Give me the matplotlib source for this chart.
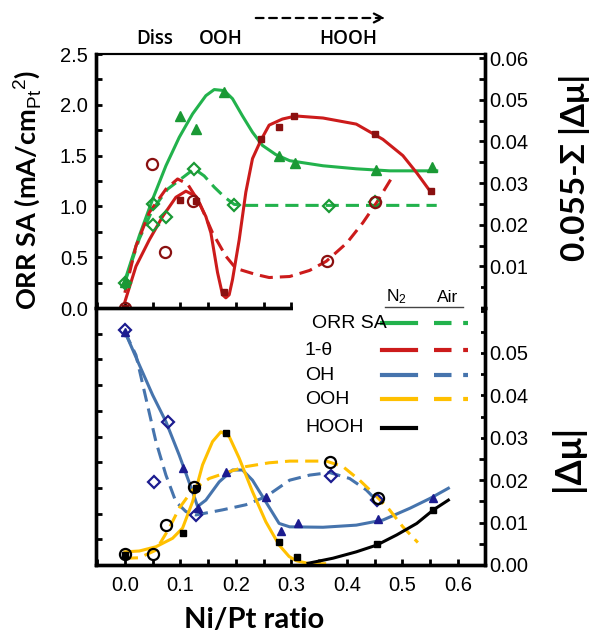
import matplotlib
matplotlib.use("Agg")
import matplotlib.pyplot as plt
from matplotlib.lines import Line2D
from matplotlib.patches import Rectangle
from matplotlib.ticker import MultipleLocator, FixedLocator, FormatStrFormatter

plt.rcParams['font.family'] = ['Liberation Sans', 'DejaVu Sans']
plt.rcParams['mathtext.fontset'] = 'custom'
plt.rcParams['mathtext.rm'] = 'Liberation Sans'
plt.rcParams['mathtext.it'] = 'Liberation Sans:italic'
plt.rcParams['mathtext.bf'] = 'Liberation Sans:bold'

# ---- top panel: ORR SA and 1-theta (left axis units) ----
orr_n2_x = [0, 0.1, 0.128, 0.179, 0.277, 0.306, 0.452, 0.553]
orr_n2_y = [0.26, 1.89, 1.76, 2.13, 1.50, 1.43, 1.36, 1.39]
orr_air_x = [0, 0.05, 0.05, 0.074, 0.125, 0.197, 0.368, 0.45]
orr_air_y = [0.25, 1.02, 0.82, 0.90, 1.37, 1.01, 1.00, 1.04]
theta_n2_x = [0, 0.1, 0.128, 0.179, 0.245, 0.277, 0.305, 0.45, 0.551]
theta_n2_y = [0.0, 1.06, 1.05, 0.16, 1.66, 1.78, 1.89, 1.71, 1.15]
theta_air_x = [0, 0.049, 0.072, 0.122, 0.365, 0.45]
theta_air_y = [0.0, 1.42, 0.55, 1.05, 0.46, 1.04]

orr_n2_fit_x = [0, 0.026, 0.05, 0.074, 0.098, 0.122, 0.146, 0.161, 0.179, 0.194,
                0.212, 0.23, 0.248, 0.272, 0.297, 0.357, 0.417, 0.477, 0.562]
orr_n2_fit_y = [0.27, 0.71, 1.07, 1.40, 1.68, 1.91, 2.09, 2.15, 2.14, 2.06,
                1.89, 1.73, 1.60, 1.51, 1.45, 1.40, 1.37, 1.35, 1.35]
orr_air_fit_x = [0, 0.026, 0.05, 0.077, 0.101, 0.125, 0.143, 0.161, 0.18, 0.197,
                 0.22, 0.30, 0.40, 0.50, 0.562]
orr_air_fit_y = [0.25, 0.68, 0.97, 1.17, 1.27, 1.37, 1.30, 1.19, 1.09, 1.02,
                 1.01, 1.01, 1.01, 1.01, 1.01]
theta_n2_fit_x = [0, 0.02, 0.044, 0.068, 0.092, 0.11, 0.128, 0.146, 0.155, 0.167,
                  0.176, 0.182, 0.188, 0.194, 0.206, 0.218, 0.23, 0.245, 0.26, 0.284,
                  0.308, 0.357, 0.417, 0.465, 0.501, 0.526, 0.55]
theta_n2_fit_y = [0.06, 0.41, 0.67, 0.90, 1.09, 1.15, 1.10, 0.90, 0.74, 0.35,
                  0.13, 0.10, 0.13, 0.28, 0.67, 1.14, 1.47, 1.65, 1.80, 1.86,
                  1.89, 1.87, 1.81, 1.66, 1.50, 1.33, 1.15]
theta_air_fit_x = [0, 0.02, 0.044, 0.074, 0.095, 0.113, 0.134, 0.158, 0.182, 0.2,
                   0.236, 0.26, 0.297, 0.333, 0.363, 0.4, 0.429, 0.454, 0.483]
theta_air_fit_y = [0.15, 0.61, 0.94, 1.17, 1.27, 1.22, 1.04, 0.74, 0.51, 0.39,
                   0.33, 0.30, 0.31, 0.37, 0.46, 0.64, 0.84, 1.04, 1.30]

# ---- bottom panel: |dmu| (right axis units) ----
oh_n2_x = [0, 0.105, 0.131, 0.182, 0.254, 0.281, 0.312, 0.456, 0.556]
oh_n2_y = [0.055, 0.0228, 0.0134, 0.0220, 0.0161, 0.0079, 0.0098, 0.0108, 0.0157]
oh_air_x = [0, 0.053, 0.077, 0.128, 0.371, 0.455]
oh_air_y = [0.0555, 0.0196, 0.0338, 0.0118, 0.0210, 0.0153]
ooh_n2_x = [0, 0.105, 0.128, 0.182, 0.278]
ooh_n2_y = [0.0024, 0.0075, 0.0181, 0.0311, 0.0054]
hooh_n2_x = [0.31, 0.455, 0.556]
hooh_n2_y = [0.0020, 0.0049, 0.0130]
ooh_air_x = [0, 0.051, 0.074, 0.125, 0.369, 0.456]
ooh_air_y = [0.0025, 0.0025, 0.0094, 0.0185, 0.0244, 0.0157]

oh_n2_fit_x = [0, 0.026, 0.05, 0.074, 0.098, 0.122, 0.131, 0.146, 0.17, 0.194, 0.212,
               0.23, 0.254, 0.278, 0.297, 0.357, 0.417, 0.465, 0.514, 0.55, 0.583]
oh_n2_fit_y = [0.0550, 0.0472, 0.0401, 0.0338, 0.0259, 0.0173, 0.0138, 0.0153, 0.0196,
               0.0224, 0.0224, 0.0200, 0.0149, 0.0098, 0.0090, 0.0089, 0.0094, 0.0106,
               0.0134, 0.0157, 0.0181]
oh_air_fit_x = [0, 0.02, 0.038, 0.056, 0.074, 0.092, 0.11, 0.128, 0.176, 0.218, 0.254,
                0.297, 0.333, 0.369, 0.405, 0.435, 0.456]
oh_air_fit_y = [0.0550, 0.0495, 0.0393, 0.0291, 0.0212, 0.0149, 0.0126, 0.0118, 0.0130,
                0.0142, 0.0161, 0.0200, 0.0212, 0.0218, 0.0204, 0.0177, 0.0149]
ooh_n2_fit_x = [0, 0.026, 0.056, 0.086, 0.104, 0.122, 0.14, 0.158, 0.173, 0.188, 0.206,
                0.23, 0.254, 0.278, 0.296, 0.309, 0.333, 0.36]
ooh_n2_fit_y = [0.0031, 0.0033, 0.0043, 0.0063, 0.0087, 0.0149, 0.0236, 0.0291, 0.0314,
                0.0303, 0.0252, 0.0173, 0.0102, 0.0047, 0.0020, 0.0010, 0.0003, 0.0003]
ooh_air_fit_x = [0, 0.026, 0.056, 0.08, 0.098, 0.122, 0.152, 0.188, 0.218, 0.26, 0.297,
                 0.363, 0.393, 0.423, 0.454, 0.477, 0.501, 0.528]
ooh_air_fit_y = [0.0016, 0.0017, 0.0035, 0.0087, 0.0134, 0.0177, 0.0204, 0.0220, 0.0232,
                 0.0241, 0.0245, 0.0245, 0.0232, 0.0200, 0.0161, 0.0130, 0.0090, 0.0053]
hooh_n2_fit_x = [0.33, 0.375, 0.417, 0.454, 0.49, 0.526, 0.556, 0.583]
hooh_n2_fit_y = [0.0004, 0.0016, 0.0031, 0.0047, 0.0071, 0.0098, 0.0130, 0.0153]

legend_names = ["ORR SA", "1-θ", "OH", "OOH", "HOOH"]

green, green_m = '#22b24c', '#1a9935'
red, red_m = '#cc1b1b', '#8a1010'
blue, blue_m = '#4674ad', '#1c1c90'
yellow = '#ffc000'
dash = (4.3, 2.3)
lw = 2.2

W, H = 591, 637
fig = plt.figure(figsize=(W / 100, H / 100), dpi=100)


def fx(px):
    return px / W


def fy(py):
    return 1 - py / H


ax_t = fig.add_axes([fx(96), fy(308), fx(485) - fx(96), fy(54) - fy(308)])
ax_b = fig.add_axes([fx(96), fy(565), fx(485) - fx(96), fy(308) - fy(565)])
ax_t2 = ax_t.twinx()
ax_b2 = ax_b.twinx()

for ax in (ax_t, ax_b):
    ax.set_xlim(-0.052, 0.649)
    ax.xaxis.set_major_locator(MultipleLocator(0.1))
    ax.xaxis.set_minor_locator(MultipleLocator(0.05))
    ax.set_ylim(0, 2.5)

# top panel curves
ax_t.plot(orr_n2_fit_x, orr_n2_fit_y, color=green, lw=lw)
ax_t.plot(orr_air_fit_x, orr_air_fit_y, color=green, lw=lw, dashes=dash)
ax_t.plot(theta_n2_fit_x, theta_n2_fit_y, color=red, lw=lw)
ax_t.plot(theta_air_fit_x, theta_air_fit_y, color=red, lw=lw, dashes=dash)
ax_t.plot(orr_n2_x, orr_n2_y, '^', color=green_m, ms=6.5, ls='none')
ax_t.plot(orr_air_x, orr_air_y, 'D', mfc='none', mec=green_m, mew=1.6, ms=6, ls='none')
ax_t.plot(theta_n2_x, theta_n2_y, 's', color=red_m, ms=5, ls='none')
ax_t.plot(theta_air_x, theta_air_y, 'o', mfc='none', mec=red_m, mew=1.6, ms=8, ls='none')

# bottom panel curves
ax_b2.set_ylim(0, 0.0606)
ax_b2.plot(oh_n2_fit_x, oh_n2_fit_y, color=blue, lw=lw)
ax_b2.plot(oh_air_fit_x, oh_air_fit_y, color=blue, lw=lw, dashes=dash)
ax_b2.plot(ooh_n2_fit_x, ooh_n2_fit_y, color=yellow, lw=lw)
ax_b2.plot(ooh_air_fit_x, ooh_air_fit_y, color=yellow, lw=lw, dashes=dash)
ax_b2.plot(hooh_n2_fit_x, hooh_n2_fit_y, color='black', lw=lw)
ax_b2.plot(oh_n2_x, oh_n2_y, '^', color=blue_m, ms=5.5, ls='none')
ax_b2.plot(oh_air_x, oh_air_y, 'D', mfc='none', mec=blue_m, mew=1.6, ms=6, ls='none')
ax_b2.plot(ooh_n2_x, ooh_n2_y, 's', color='black', ms=4.5, ls='none')
ax_b2.plot(hooh_n2_x, hooh_n2_y, 's', color='black', ms=4.5, ls='none')
ax_b2.plot(ooh_air_x, ooh_air_y, 'o', mfc='none', mec='black', mew=1.6, ms=8, ls='none')

# axes styling
tick_kw = dict(direction='in', width=2, colors='black', labelsize=14.5)
ax_t.yaxis.set_major_locator(MultipleLocator(0.5))
ax_t.yaxis.set_minor_locator(MultipleLocator(0.25))
ax_t.yaxis.set_major_formatter(FormatStrFormatter('%.1f'))
ax_t.tick_params(axis='both', which='both', length=4, top=False, right=False,
                 labelbottom=False, pad=6, **tick_kw)

ax_t2.set_ylim(0, 0.061)
ax_t2.yaxis.set_major_locator(FixedLocator([0.01, 0.02, 0.03, 0.04, 0.05, 0.06]))
ax_t2.yaxis.set_minor_locator(MultipleLocator(0.005))
ax_t2.yaxis.set_major_formatter(FormatStrFormatter('%.2f'))
ax_t2.tick_params(axis='y', which='both', length=4, pad=3, **tick_kw)

ax_b.yaxis.set_major_locator(MultipleLocator(0.25))
ax_b.tick_params(axis='y', which='both', length=4, right=False, labelleft=False, **tick_kw)
ax_b.tick_params(axis='x', which='both', length=4, top=False, pad=8, **tick_kw)
ax_b.xaxis.set_major_formatter(FormatStrFormatter('%.1f'))

ax_b2.yaxis.set_major_locator(FixedLocator([0, 0.01, 0.02, 0.03, 0.04, 0.05]))
ax_b2.yaxis.set_minor_locator(MultipleLocator(0.005))
ax_b2.yaxis.set_major_formatter(FormatStrFormatter('%.2f'))
ax_b2.tick_params(axis='y', which='both', length=4, pad=3, **tick_kw)

for ax in (ax_t, ax_t2, ax_b, ax_b2):
    for s in ax.spines.values():
        s.set_linewidth(2.4)
    ax.patch.set_visible(False)
for ax in (ax_t, ax_t2):
    ax.spines['top'].set_linewidth(1.5)
for ax in (ax_b, ax_b2):
    ax.spines['top'].set_visible(False)

# axis titles
lab_font = ['Lato', 'DejaVu Sans']
fig.text(fx(27), fy(190), r"ORR SA (mA/cm$_{\rm Pt}$$^{2}$)", rotation=90,
         ha='center', va='center', fontsize=19.5, fontweight='bold', family=lab_font)
fig.text(fx(574), fy(167), "0.055-Σ |Δμ|", rotation=90, ha='center', va='center',
         fontsize=24, fontweight='bold', family=lab_font)
fig.text(fx(568), fy(458), "|Δμ|", rotation=90, ha='center', va='center',
         fontsize=26, fontweight='bold', family=lab_font)
fig.text(fx(254), fy(620), "Ni/Pt ratio", ha='center', va='center',
         fontsize=21, fontweight='bold', family=lab_font)

# region labels above top panel
for name, px in [("Diss", 155), ("OOH", 221), ("HOOH", 348)]:
    fig.text(fx(px), fy(39), name, ha='center', va='center', fontsize=13.5,
             fontweight='semibold', family=['Open Sans', 'DejaVu Sans'])
fig.add_artist(matplotlib.patches.FancyArrowPatch(
    (fx(253), fy(18)), (fx(388), fy(18)), transform=fig.transFigure,
    arrowstyle='->', mutation_scale=16, lw=1.6, color='black', linestyle=(0, (3.5, 2.5))))

# legend (white box over the panel join)
fig.add_artist(Rectangle((fx(293), fy(442)), fx(481) - fx(293), fy(286) - fy(442),
                         transform=fig.transFigure, facecolor='white', edgecolor='none',
                         zorder=5))
fig.text(fx(386), fy(297), r"N$_2$", ha='left', va='center', fontsize=12.5, zorder=6)
fig.text(fx(437), fy(297), "Air", ha='left', va='center', fontsize=12.5, zorder=6)
fig.add_artist(Line2D([fx(385), fx(463)], [fy(307), fy(307)], transform=fig.transFigure,
                      color='#444444', lw=1, zorder=6))
leg_rows = [(323, green, True), (350, red, True), (375, blue, True),
            (399, yellow, True), (428, 'black', False)]
for name, (py, c, has_air) in zip(legend_names, leg_rows):
    tx = 312 if name == "ORR SA" else 305
    fig.text(fx(tx), fy(py), name, ha='left', va='center', fontsize=14, zorder=6)
    fig.add_artist(Line2D([fx(382), fx(416)], [fy(py), fy(py)], transform=fig.transFigure,
                          color=c, lw=3, zorder=6))
    if has_air:
        fig.add_artist(Line2D([fx(434), fx(468)], [fy(py), fy(py)], transform=fig.transFigure,
                              color=c, lw=3, dashes=(4.2, 2.8), zorder=6))

fig.savefig('out.png', dpi=100)
